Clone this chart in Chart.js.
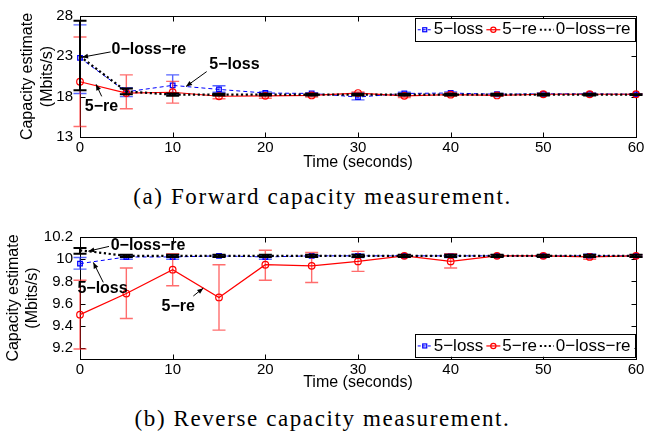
<!DOCTYPE html>
<html>
<head>
<meta charset="utf-8">
<script src="https://cdn.jsdelivr.net/npm/chart.js@4.4.0/dist/chart.umd.min.js"></script>
<style>
  body { margin: 0; background: #fff; width: 665px; height: 432px; position: relative; overflow: hidden; }
  canvas { position: absolute; left: 0; }
  .caption { position: absolute; left: 0; width: 645px; text-align: center; font-family: "Liberation Serif", serif; font-size: 23px; letter-spacing: 1.6px; color: #000; white-space: nowrap; }
</style>
</head>
<body>
<canvas id="fwdChart" width="665" height="175" style="top:0"></canvas>
<div class="caption" style="top:184px">(a) Forward capacity measurement.</div>
<canvas id="revChart" width="665" height="175" style="top:221px"></canvas>
<div class="caption" style="top:406px">(b) Reverse capacity measurement.</div>
<script>
const timeSteps = [0, 5, 10, 15, 20, 25, 30, 35, 40, 45, 50, 55, 60];
const xTicks = [0, 10, 20, 30, 40, 50, 60];
const fwdTicks = [13, 18, 23, 28];
const revTicks = [9.2, 9.4, 9.6, 9.8, 10, 10.2];
const seriesNames = ['5\u2212loss', '5\u2212re', '0\u2212loss\u2212re'];

// forward capacity (Mbits/s)
const fwdLoss   = [22.8, 18.6, 19.4, 18.9, 18.45, 18.4, 17.95, 18.4, 18.45, 18.3, 18.35, 18.35, 18.3];
const fwdLossLo = [18.4, 18.0, 18.3, 18.55, 18.3, 18.3, 17.6, 18.25, 18.25, 18.2, 18.25, 18.25, 18.25];
const fwdLossHi = [26.9, 19.1, 20.7, 19.35, 18.6, 18.5, 18.45, 18.55, 18.6, 18.4, 18.45, 18.45, 18.35];
const fwdRe     = [19.85, 18.45, 18.55, 18.05, 18.1, 18.15, 18.45, 18.1, 18.25, 18.15, 18.3, 18.3, 18.3];
const fwdReLo   = [14.3, 16.5, 17.2, 17.75, 17.8, 17.95, 18.2, 17.9, 18.05, 18.05, 18.2, 18.2, 18.25];
const fwdReHi   = [25.4, 20.7, 19.9, 18.35, 18.35, 18.4, 18.6, 18.35, 18.45, 18.3, 18.4, 18.4, 18.35];
const fwdZero   = [23.0, 18.65, 18.25, 18.25, 18.25, 18.25, 18.25, 18.25, 18.25, 18.25, 18.25, 18.25, 18.25];
const fwdZeroLo = [18.8, 18.3, 18.1, 18.15, 18.15, 18.15, 18.15, 18.15, 18.15, 18.15, 18.15, 18.15, 18.2];
const fwdZeroHi = [27.4, 19.0, 18.4, 18.35, 18.35, 18.35, 18.35, 18.35, 18.35, 18.35, 18.35, 18.35, 18.3];

// reverse capacity (Mbits/s)
const revLoss   = [9.96, 10.02, 10.02, 10.03, 10.02, 10.03, 10.03, 10.03, 10.03, 10.03, 10.03, 10.03, 10.03];
const revLossLo = [9.91, 10.0, 10.0, 10.02, 10.0, 10.02, 10.015, 10.02, 10.015, 10.02, 10.02, 10.015, 10.02];
const revLossHi = [10.015, 10.035, 10.04, 10.04, 10.035, 10.04, 10.045, 10.04, 10.045, 10.04, 10.04, 10.045, 10.04];
const revRe     = [9.50, 9.69, 9.905, 9.655, 9.95, 9.94, 9.98, 10.03, 9.98, 10.03, 10.03, 10.02, 10.03];
const revReLo   = [9.19, 9.465, 9.76, 9.36, 9.81, 9.79, 9.89, 10.02, 9.92, 10.02, 10.02, 10.0, 10.02];
const revReHi   = [9.81, 9.92, 10.05, 9.95, 10.08, 10.06, 10.07, 10.04, 10.05, 10.04, 10.04, 10.04, 10.04];
const revZero   = [10.08, 10.03, 10.03, 10.03, 10.03, 10.03, 10.03, 10.03, 10.03, 10.03, 10.03, 10.03, 10.03];
const revZeroLo = [10.05, 10.02, 10.02, 10.02, 10.02, 10.02, 10.02, 10.02, 10.02, 10.02, 10.02, 10.02, 10.02];
const revZeroHi = [10.10, 10.04, 10.04, 10.04, 10.04, 10.04, 10.04, 10.04, 10.04, 10.04, 10.04, 10.04, 10.04];

// callouts: label position, arrow tail, arrow head (data coords)
const fwdNotes = [
  { text: seriesNames[2], at: [7.43, 23.78], tail: [3.31, 23.55], head: [0.22, 22.89] },
  { text: seriesNames[0], at: [16.67, 21.98], tail: [13.67, 21.11], head: [11.44, 19.26] },
  { text: seriesNames[1], at: [2.32, 16.78], tail: [2.34, 18.04], head: [1.73, 19.53] }
];
const revNotes = [
  { text: seriesNames[2], at: [7.34, 10.124], tail: [3.13, 10.115], head: [0.9, 10.072] },
  { text: seriesNames[0], at: [2.43, 9.734], tail: [2.51, 9.791], head: [1.44, 9.971] },
  { text: seriesNames[1], at: [10.6, 9.572], tail: [12.23, 9.668], head: [13.3, 9.739] }
];

const FONT = '"Liberation Sans", Arial, sans-serif';
Chart.defaults.font.family = FONT;
Chart.defaults.color = '#000';

const crisp = v => Math.round(v) + 0.5;

// box around the axes with inward ticks on all four sides
const boxAxes = {
  id: 'boxAxes',
  beforeDatasetsDraw(chart) {
    const { ctx, chartArea: a, scales: { x, y } } = chart;
    const l = crisp(a.left), r = crisp(a.right), t = crisp(a.top), b = crisp(a.bottom);
    ctx.save();
    ctx.strokeStyle = '#000';
    ctx.lineWidth = 1;
    ctx.strokeRect(l, t, r - l, b - t);
    ctx.beginPath();
    x.ticks.forEach(tk => {
      const px = crisp(x.getPixelForValue(tk.value));
      ctx.moveTo(px, b); ctx.lineTo(px, b - 5);
      ctx.moveTo(px, t); ctx.lineTo(px, t + 5);
    });
    y.ticks.forEach(tk => {
      const py = crisp(y.getPixelForValue(tk.value));
      ctx.moveTo(l, py); ctx.lineTo(l + 5, py);
      ctx.moveTo(r, py); ctx.lineTo(r - 5, py);
    });
    ctx.stroke();
    ctx.restore();
  }
};

const errorBars = {
  id: 'errorBars',
  beforeDatasetDraw(chart, args) {
    const ds = chart.data.datasets[args.index];
    if (!ds.errLo) return;
    const { ctx, scales: { x, y } } = chart;
    const cap = 6.5;
    ctx.save();
    ctx.strokeStyle = ds.errColor;
    ctx.lineWidth = ds.errWidth;
    ctx.beginPath();
    ds.data.forEach((p, i) => {
      const px = x.getPixelForValue(p.x);
      const lo = y.getPixelForValue(ds.errLo[i]);
      const hi = y.getPixelForValue(ds.errHi[i]);
      ctx.moveTo(px, lo); ctx.lineTo(px, hi);
      ctx.moveTo(px - cap, lo); ctx.lineTo(px + cap, lo);
      ctx.moveTo(px - cap, hi); ctx.lineTo(px + cap, hi);
    });
    ctx.stroke();
    ctx.restore();
  }
};

const callouts = {
  id: 'callouts',
  afterDatasetsDraw(chart, args, opts) {
    const { ctx, scales: { x, y } } = chart;
    ctx.save();
    ctx.fillStyle = '#000';
    ctx.strokeStyle = '#000';
    ctx.lineWidth = 1;
    ctx.font = 'bold 16px ' + FONT;
    ctx.textAlign = 'center';
    ctx.textBaseline = 'middle';
    (opts.items || []).forEach(n => {
      const tx = x.getPixelForValue(n.tail[0]), ty = y.getPixelForValue(n.tail[1]);
      const hx = x.getPixelForValue(n.head[0]), hy = y.getPixelForValue(n.head[1]);
      ctx.beginPath();
      ctx.moveTo(tx, ty);
      ctx.lineTo(hx, hy);
      ctx.stroke();
      const ang = Math.atan2(hy - ty, hx - tx);
      const c = Math.cos(ang), s = Math.sin(ang);
      ctx.beginPath();
      ctx.moveTo(hx, hy);
      ctx.lineTo(hx - 6 * c + 2.5 * s, hy - 6 * s - 2.5 * c);
      ctx.lineTo(hx - 6 * c - 2.5 * s, hy - 6 * s + 2.5 * c);
      ctx.closePath();
      ctx.fill();
      ctx.fillText(n.text, x.getPixelForValue(n.at[0]), y.getPixelForValue(n.at[1]));
    });
    ctx.restore();
  }
};

// horizontal legend drawn inside the axes, matlab style
const boxLegend = {
  id: 'boxLegend',
  afterDraw(chart, args, opts) {
    const { ctx, chartArea: a } = chart;
    const sets = chart.data.datasets.slice().sort((p, q) => q.order - p.order);
    ctx.save();
    ctx.font = '17px ' + FONT;
    const sample = 14, pad = 3, gapIn = 2, gapOut = 3, h = 22.5;
    const widths = sets.map(d => ctx.measureText(d.label).width);
    const w = pad + sets.length * (sample + gapIn) + widths.reduce((p, q) => p + q, 0) + (sets.length - 1) * gapOut + 4;
    const right = a.right - 1.5;
    const left = right - w;
    const top = opts.corner === 'bottom' ? a.bottom - 2.3 - h : a.top + 2;
    ctx.fillStyle = '#fff';
    ctx.fillRect(left, top, w, h);
    ctx.strokeStyle = '#000';
    ctx.lineWidth = 1;
    ctx.strokeRect(crisp(left), crisp(top), Math.round(w), Math.round(h));
    let cx = left + pad;
    const cy = top + h / 2 + 0.5;
    sets.forEach((d, i) => {
      ctx.save();
      ctx.strokeStyle = d.borderColor;
      ctx.lineWidth = d.legendWidth;
      ctx.setLineDash(d.legendDash);
      ctx.beginPath();
      ctx.moveTo(cx, cy);
      ctx.lineTo(cx + sample, cy);
      ctx.stroke();
      ctx.setLineDash([]);
      ctx.lineWidth = 1.2;
      const mx = cx + sample / 2;
      if (d.pointStyle === 'rect') {
        ctx.strokeRect(mx - 2, cy - 2, 4, 4);
      } else if (d.pointRadius > 0) {
        ctx.beginPath();
        ctx.arc(mx, cy, 2.6, 0, Math.PI * 2);
        ctx.stroke();
      }
      ctx.restore();
      cx += sample + gapIn;
      ctx.fillStyle = '#000';
      ctx.textAlign = 'left';
      ctx.textBaseline = 'middle';
      ctx.fillText(d.label, cx, cy);
      cx += widths[i] + gapOut;
    });
    ctx.restore();
  }
};

function makeDatasets(loss, lossLo, lossHi, re, reLo, reHi, zero, zeroLo, zeroHi) {
  const pts = v => timeSteps.map((t, i) => ({ x: t, y: v[i] }));
  return [
    {
      label: seriesNames[0], data: pts(loss), errLo: lossLo, errHi: lossHi, order: 3,
      borderColor: '#0000ff', borderWidth: 1, borderDash: [4, 3],
      pointStyle: 'rect', pointRadius: 3.2, pointBorderWidth: 1.3,
      pointBorderColor: '#0000ff', pointBackgroundColor: 'rgba(0,0,0,0)',
      errColor: 'rgba(30,50,255,0.75)', errWidth: 1.4,
      legendDash: [3, 2], legendWidth: 1, clip: false
    },
    {
      label: seriesNames[1], data: pts(re), errLo: reLo, errHi: reHi, order: 2,
      borderColor: '#ff0000', borderWidth: 1.2,
      pointStyle: 'circle', pointRadius: 3.3, pointBorderWidth: 1.2,
      pointBorderColor: '#ff0000', pointBackgroundColor: 'rgba(0,0,0,0)',
      errColor: 'rgba(255,30,30,0.65)', errWidth: 1.4,
      legendDash: [], legendWidth: 1.2, clip: false
    },
    {
      label: seriesNames[2], data: pts(zero), errLo: zeroLo, errHi: zeroHi, order: 1,
      borderColor: '#000000', borderWidth: 2.2, borderDash: [2.2, 2.6],
      pointRadius: 0,
      errColor: '#000000', errWidth: 2,
      legendDash: [2, 2.5], legendWidth: 2, clip: false
    }
  ];
}

function makeChart(id, datasets, yMin, yMax, yTicks, padTop, xHeight, yTitlePad, xTitlePad, notes, corner) {
  return new Chart(document.getElementById(id), {
    type: 'line',
    data: { datasets: datasets },
    plugins: [boxAxes, errorBars, callouts, boxLegend],
    options: {
      responsive: false,
      animation: false,
      events: [],
      layout: { padding: { left: 0, right: 29, top: padTop, bottom: 0 } },
      elements: { line: { tension: 0, fill: false } },
      plugins: {
        legend: { display: false },
        tooltip: { enabled: false },
        callouts: { items: notes },
        boxLegend: { corner: corner }
      },
      scales: {
        x: {
          type: 'linear', min: 0, max: 60,
          afterBuildTicks: s => { s.ticks = xTicks.map(v => ({ value: v })); },
          afterFit: s => { s.height = xHeight; },
          grid: { display: false, drawTicks: false },
          border: { display: false },
          ticks: { padding: 2, font: { size: 15 }, color: '#000', maxRotation: 0, autoSkip: false },
          title: { display: true, text: 'Time (seconds)', font: { size: 16 }, color: '#000', padding: { top: 0, bottom: xTitlePad } }
        },
        y: {
          type: 'linear', min: yMin, max: yMax,
          afterBuildTicks: s => { s.ticks = yTicks.map(v => ({ value: v })); },
          afterFit: s => { s.width = 80; },
          grid: { display: false, drawTicks: false },
          border: { display: false },
          ticks: { padding: 7, font: { size: 15 }, color: '#000', autoSkip: false,
                   callback: v => String(Math.round(v * 10) / 10) },
          title: { display: true, text: ['Capacity estimate', '(Mbits/s)'], font: { size: 16, lineHeight: 1.2 }, color: '#000', padding: { top: yTitlePad, bottom: 0 } }
        }
      }
    }
  });
}

makeChart('fwdChart',
  makeDatasets(fwdLoss, fwdLossLo, fwdLossHi, fwdRe, fwdReLo, fwdReHi, fwdZero, fwdZeroLo, fwdZeroHi),
  13, 28, fwdTicks, 10, 38, 18.4, 2.4, fwdNotes, 'top');

makeChart('revChart',
  makeDatasets(revLoss, revLossLo, revLossHi, revRe, revReLo, revReHi, revZero, revZeroLo, revZeroHi),
  9.1, 10.2, revTicks, 11, 37, 3.7, 3.4, revNotes, 'bottom');
</script>
</body>
</html>
